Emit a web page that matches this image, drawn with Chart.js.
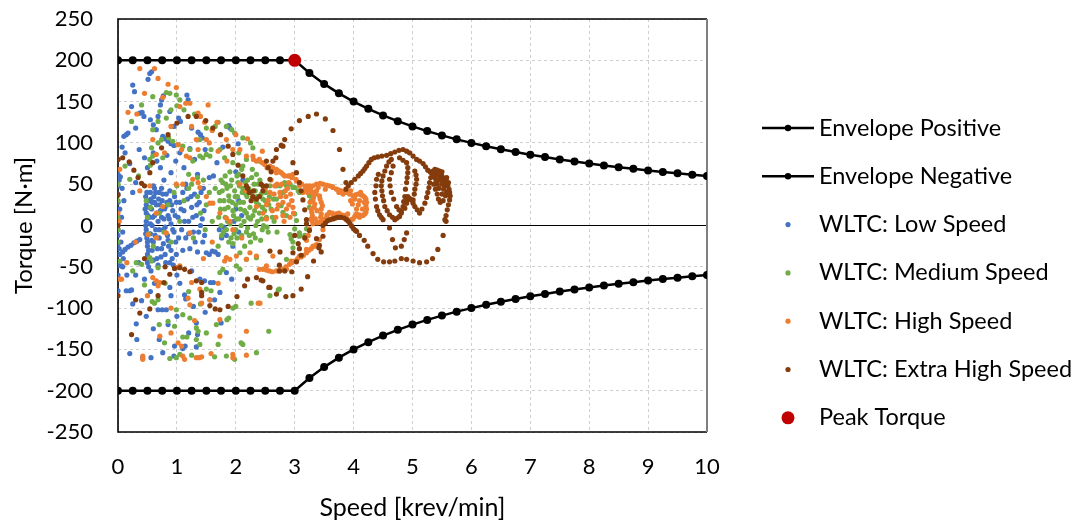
<!DOCTYPE html>
<html>
<head>
<meta charset="utf-8">
<script src="https://cdn.jsdelivr.net/npm/chart.js@4.4.1/dist/chart.umd.min.js"></script>
<style>
  body { margin: 0; background: #fff; }
</style>
</head>
<body>
<canvas id="torqueChart" width="1085" height="524"></canvas>
<script>
// envelope (speed in krev/min, torque in N·m)
const envSpeed = [0,0.25,0.5,0.75,1,1.25,1.5,1.75,2,2.25,2.5,2.75,3,3.25,3.5,3.75,4,4.25,4.5,4.75,5,5.25,5.5,5.75,6,6.25,6.5,6.75,7,7.25,7.5,7.75,8,8.25,8.5,8.75,9,9.25,9.5,9.75,10];
const envPosTorque = [200,200,200,200,200,200,200,200,200,200,200,200,200,184.6,171.4,160,150,141.2,133.3,126.3,120,114.3,109.1,104.3,100,96,92.3,88.9,85.7,82.8,80,77.4,75,72.7,70.6,68.6,66.7,64.9,63.2,61.5,60];
const envNegTorque = [-200,-200,-200,-200,-200,-200,-200,-200,-200,-200,-200,-200,-200,-184.6,-171.4,-160,-150,-141.2,-133.3,-126.3,-120,-114.3,-109.1,-104.3,-100,-96,-92.3,-88.9,-85.7,-82.8,-80,-77.4,-75,-72.7,-70.6,-68.6,-66.7,-64.9,-63.2,-61.5,-60];

const peakSpeed = [3];
const peakTorque = [200];

// WLTC operating points [speed, torque]
const lowSpeedPts = [
  [0.25,170],[0.28,162],[0.23,144],[0.51,177],[0.54,184],[0.57,186],[0.37,136],[0.41,137],[0.44,132],[0.74,152],[0.77,157],[0.72,146],[1.17,158],[1.19,152],[0.1,108],[0.14,110],[0.17,112],[0.07,95],[0.76,108],[0.8,105],[0.85,102],[0.9,99],[0.95,97],[1.03,130],[1.06,126],[0.6,122],[0.65,116],[1.36,113],[1.4,110],[1.43,106],[1.88,121],[1.9,118],[2.04,99],[0.55,128],[0.3,118],[0.95,120],[1.25,118],[0.88,138],[0.68,132],
  [0.04,59],[0.12,88],[0.2,75],[0.36,92],[0.45,82],[0.5,70],[0.6,88],[0.66,78],[0.72,70],[0.83,85],[0.9,64],[0.98,78],[1.05,88],[1.12,70],[1.22,93],[1.3,80],[1.35,62],[1.48,92],[1.55,58],[1.62,60],[1.68,76],[1.78,95],[2.0,65],[2.12,55],[0.3,52],[0.78,55],[1.15,50],[1.45,45],[0.62,45],[0.25,40],
  [0.47,35],[0.48,25],[0.48,15],[0.48,5],[0.48,-5],[0.49,-15],[0.5,-25],[0.5,-35],[0.5,-45],[0.52,30],[0.53,10],[0.55,-10],[0.55,40],[0.57,20],[0.58,0],[0.58,-30],[0.6,-20],[0.61,35],[0.62,12],[0.64,-5],[0.65,25],[0.66,-40],[0.68,5],[0.7,40],[0.7,-15],[0.72,18],[0.74,-28],[0.75,30],[0.77,-5],[0.78,8],[0.8,22],[0.8,-35],[0.82,38],[0.84,-12],[0.85,12],[0.86,-25],[0.88,30],[0.9,2],[0.92,-40],[0.93,18],[0.95,-8],[0.96,35],[0.98,-20],[0.52,-50],[0.56,-55],[0.6,48],[0.74,45],[0.68,-48],[0.88,-45],[0.58,28],
  [0.46,20],[0.47,0],[0.47,-10],[0.49,40],[0.5,-20],[0.51,12],[0.52,-30],[0.53,22],[0.54,-40],[0.55,2],[0.56,32],[0.57,-18],[0.59,10],[0.6,-42],[0.62,28],[0.63,-12],[0.64,40],[0.66,15],[0.67,-28],[0.69,32],[0.7,-5],[0.71,25],[0.73,-38],[0.74,10],[0.76,38],[0.77,-22],[0.79,20],[0.8,-2],[0.81,-45],[0.83,28],[0.85,-18],[0.87,8],[0.88,42],[0.9,-30],[0.91,25],[0.93,-5],[0.94,-48],[0.97,12],[0.99,28],[0.99,-35],
  [1.02,10],[1.05,28],[1.08,-5],[1.1,40],[1.12,18],[1.15,-15],[1.18,32],[1.2,5],[1.22,-28],[1.25,22],[1.28,-8],[1.3,38],[1.33,12],[1.35,-32],[1.38,28],[1.4,0],[1.44,-20],[1.46,18],[1.5,-33],[1.55,-35],[1.6,-31],[1.65,-32],[1.7,-35],[1.72,-5],[1.76,-15],[1.8,-2],[1.84,-12],[1.97,5],[2.0,20],[2.05,-8],[2.1,12],[1.95,-25],[2.05,30],
  [1.03,-15],[1.07,20],[1.1,-30],[1.13,5],[1.17,45],[1.2,-10],[1.24,35],[1.27,10],[1.31,-20],[1.34,25],[1.37,-8],[1.41,40],[1.43,8],[1.47,-12],
  [0,80],[0,62],[0,48],[0,38],[0,28],[0,18],[0,10],[0,3],[0,-5],[0,-12],[0,-22],[0,-35],[0,-48],[0,-60],[0,-79],[0.02,55],[0.03,20],[0.02,-28],[0.06,10],[0.08,-8],[0.1,30],[0.05,-20],[0.07,45],[0.09,-40],
  [0.03,-35],[0.08,-32],[0.12,-29],[0.17,-26],[0.22,-24],[0.27,-21],[0.32,-19],[0.37,-17],[0.06,-49],[0.08,-50],[0.14,-79],[0.2,-79],[0.23,-78],[0.4,-91],[0.31,-119],[0.32,-138],[0.2,-155],[0.42,-160],[0.56,-160],[0.76,-154],[0.95,-158],[0.96,-146],[1.1,-149],[1.14,-146],[1.33,-118],[1.35,-132],[1.33,-147],[0.68,-102],[0.75,-102],[0.82,-102],[0.88,-75],[1.05,-70],[1.13,-84],[1.15,-89],[1.39,-65],[1.47,-67],[1.56,-90],[1.64,-90],[1.57,-69],[1.62,-69],[1.73,-81],[1.84,-57],[1.93,-65],[0.45,-65],[0.55,-80],[0.62,-70],[0.3,-60],[0.25,-95],[0.6,-125],[0.85,-120],[1.0,-110],[1.2,-130],[0.9,-85],[0.35,-45],[0.15,-60],[1.25,-55],[1.0,-60],[0.7,-138],[0.48,-110],[1.48,-105],[1.75,-118],[1.28,-98]
];

const mediumSpeedPts = [
  [0.59,156],[0.82,161],[0.88,160],[0.99,158],[1.05,152],[0.9,140],[0.71,138],[0.68,126],[0.82,130],[0.4,146],[0.23,126],[0.59,116],[1.0,145],[1.3,135],[1.12,140],[0.57,94],[0.59,84],[0.68,100],[0.74,104],[0.86,106],[0.93,102],[1.02,98],[1.1,96],[1.22,92],[1.39,84],[1.44,82],[1.5,86],[1.56,84],[1.58,92],[1.73,92],[1.81,82],[1.95,76],[2.12,72],[2.18,80],[1.39,104],[1.5,118],[1.6,116],[1.65,120],[1.84,120],[1.93,116],[1.98,112],[2.12,106],[2.29,94],[2.25,100],[0.2,56],[0.54,80],[0.55,73],[0.76,82],[1.27,78],[1.2,62],[1.35,58],[0.35,60],[0.12,72],[1.7,125],[2.05,88],[2.4,78],
  [1.72,40],[1.74,20],[1.75,0],[1.76,-12],[1.78,52],[1.8,30],[1.82,10],[1.84,-5],[1.85,45],[1.87,22],[1.88,36],[1.9,2],[1.92,-15],[1.93,55],[1.94,28],[1.96,12],[1.98,42],[2.0,-5],[2.0,25],[2.02,60],[2.03,35],[2.05,8],[2.06,48],[2.08,20],[2.1,-12],[2.11,40],[2.13,28],[2.14,5],[2.16,52],[2.18,15],[2.19,35],[2.2,-3],[2.22,45],[2.24,22],[2.25,8],[2.27,58],[2.28,32],[2.3,-10],[2.32,18],[2.33,42],[2.35,28],[2.37,5],[2.38,50],[2.4,15],[2.42,-18],[2.43,38],[2.45,22],[2.47,0],[2.48,45],[2.5,30],[2.52,10],[2.55,-8],[2.57,35],[2.6,20],[1.95,-22],[2.15,-25],[2.05,62],[1.82,60],[2.35,62],[2.25,-20],
  [1.71,10],[1.73,30],[1.77,42],[1.79,-8],[1.81,20],[1.83,50],[1.86,5],[1.89,30],[1.91,48],[1.95,18],[1.97,-10],[1.99,35],[2.01,8],[2.04,52],[2.07,28],[2.09,0],[2.12,45],[2.15,18],[2.17,38],[2.2,55],[2.21,10],[2.23,-12],[2.26,40],[2.29,12],[2.31,50],[2.34,0],[2.36,35],[2.39,25],[2.41,55],[2.44,8],[2.46,32],[2.49,18],[2.51,40],[2.53,-2],[2.56,25],[2.58,48],[2.62,10],[2.64,32],[1.88,-20],[2.02,-15],[2.18,-8],[2.33,-15],[2.45,-5],[2.28,68],[2.1,68],[1.9,65],[1.75,55],[1.7,-25],
  [2.69,48],[2.75,48],[2.8,40],[2.83,52],[2.86,48],[2.92,50],[2.97,46],[3.0,46],[3.06,42],[3.08,40],[2.69,32],[2.77,24],[2.8,16],[2.86,12],[3.0,14],[3.03,6],[3.0,-4],[3.08,-12],[3.17,-12],[3.2,-4],[3.25,22],[3.28,30],[3.25,36],[2.94,-16],[2.97,-20],[2.92,-11],[3.08,-9],[2.65,5],[2.7,-8],
  [0,50],[0,30],[0,10],[0,-5],[0,-20],[0.03,-43],[0.48,30],[0.5,10],[0.52,-10],[0.55,22],[0.6,-25],[0.7,15],[0.78,-8],[0.85,25],[0.95,40],[1.05,5],[1.12,30],[1.2,45],[1.28,-15],[1.35,35],[1.4,15],[1.45,55],[1.5,25],[1.55,40],[1.6,5],[1.65,45],[1.48,-5],[1.25,50],[1.0,48],[0.9,-20],
  [0.31,-45],[0.4,-47],[0.25,-55],[0.54,-39],[0.57,-43],[0.68,-51],[0.62,-94],[0.68,-90],[0.58,-92],[0.96,-122],[0.85,-116],[1.1,-135],[1.17,-135],[1.05,-156],[0.88,-161],[0.99,-160],[1.25,-157],[1.33,-124],[1.36,-128],[1.33,-138],[1.39,-144],[1.5,-130],[1.7,-144],[1.64,-159],[1.84,-158],[1.85,-114],[1.88,-112],[1.67,-120],[1.22,-112],[1.1,-108],[0.99,-102],[0.79,-142],[2.09,-142],[2.12,-144],[2.35,-154],[1.98,-162],[1.5,-77],[1.58,-79],[1.95,-100],[2.0,-98],[1.73,-57],[1.78,-53],[2.01,-49],[2.07,-53],[2.18,-41],[2.35,-39],[2.07,-33],[2.26,-94],[2.74,-77],[2.86,-41],[2.97,-27],[3.08,-13],[2.58,-85],[2.56,-128],[2.72,-78],[0.45,-72],[0.8,-70],[1.2,-80],[1.4,-95],[0.7,-120]
];

const highSpeedPts = [
  [0.62,190],[0.37,190],[0.17,137],[0.32,135],[0.76,155],[0.85,171],[0.99,167],[1.05,144],[1.15,148],[1.22,148],[1.36,136],[1.4,132],[1.53,146],[1.47,125],[1.6,115],[1.68,125],[0.59,104],[0.65,86],[0.79,88],[1.02,98],[1.08,92],[1.16,84],[1.22,82],[1.33,104],[1.36,92],[1.5,104],[1.55,100],[1.7,90],[1.84,104],[1.95,92],[2.07,92],[2.18,84],[2.29,84],[2.4,80],[2.49,74],[2.58,72],[2.69,68],[2.77,64],[2.89,60],[2.97,62],[3.08,52],[3.2,48],[3.14,40],[3.2,44],[3.08,48],[3.03,54],[2.92,60],[2.8,62],[2.69,64],[2.6,67],[0.03,68],[0,15],[0.02,5],[0.37,42],[0.54,48],[0.65,15],[0.76,23],[0.99,50],[1.1,50],[1.27,56],[1.36,52],[1.39,46],[1.5,35],[1.56,27],[1.61,27],[1.73,15],[1.84,9],[1.9,5],[2.07,50],[2.18,42],[2.29,35],[2.35,23],[2.46,15],[2.52,8],[2.7,50],[2.75,40],[2.8,28],[2.86,20],[2.92,10],[0.9,120],[1.25,120],[0.45,160],[0.68,178],[2.2,105],[2.45,90],[2.0,110],[1.85,78],
  [2.3,80],[2.35,78],[2.45,76],[2.53,70],[2.63,70],[2.73,66],[2.83,60],[2.95,58],[3.02,56],[3.12,50],
  [2.5,45],[2.55,30],[2.6,55],[2.62,18],[2.65,38],[2.68,10],[2.72,25],[2.78,50],[2.82,5],[2.85,35],[2.88,45],[2.9,25],[2.95,30],[2.98,15],
  [2.52,25],[2.58,40],[2.66,48],[2.7,20],[2.76,35],[2.8,12],[2.84,42],[2.9,52],[2.93,38],[2.97,22],
  [3.25,48],[3.37,50],[3.48,50],[3.59,48],[3.71,44],[3.79,42],[3.88,40],[3.99,36],[4.07,38],[4.16,36],[4.21,32],[4.21,24],[4.21,16],[4.16,12],[4.05,14],[3.99,8],[3.93,6],[3.85,12],[3.71,14],[3.59,16],[3.51,8],[3.42,4],[3.31,2],[3.3,12],[3.34,26],[3.42,36],[3.37,42],[3.45,28],[3.45,20],[3.45,14],[3.3,40],[3.32,34],[3.28,20],[3.35,8],[3.4,46],[3.52,44],[3.65,46],[3.75,40],[3.82,38],[3.95,30],[4.02,32],[4.1,30],[4.18,28],[4.15,20],[4.1,10],[3.9,14],[3.78,10],[3.65,12],[3.55,12],[3.38,18],[3.28,8],[3.95,42],[4.12,40],
  [3.27,44],[3.31,48],[3.43,51],[3.54,49],[3.64,47],[3.75,43],[3.84,40],[3.93,38],[4.03,37],[4.13,37],[4.19,34],[4.22,28],[4.22,20],[4.19,14],[4.1,13],[4.02,11],[3.96,7],[3.88,9],[3.8,13],[3.75,15],[3.64,15],[3.55,13],[3.47,6],[3.38,3],[3.29,6],[3.29,16],[3.31,30],[3.36,38],[3.43,32],[3.47,24],[3.44,10],[3.33,22],[3.26,28],[3.22,40],[3.18,46],[4.08,25],[4.05,20],[3.98,26],
  [3.25,-4],[3.23,-12],[3.2,-18],[3.48,-5],[3.42,-17],[3.37,-23],[3.28,-28],[3.2,-33],[3.11,-38],[3.0,-43],[2.91,-47],[2.8,-53],[2.69,-55],[2.57,-55],[2.46,-53],[2.41,-94],[3.08,-37],[3.2,-29],[3.31,-25],[1.81,-43],[1.84,-39],[1.9,-41],[2.01,-37],[2.18,-41],[2.24,-33],[2.35,-37],[2.4,-53],[2.52,-49],[2.63,-37],[2.74,-55],[2.86,-53],[2.94,-43],
  [3.34,-25],[3.24,-30],[3.15,-36],[3.05,-40],[2.95,-45],[2.85,-50],[2.75,-54],[2.62,-56],[2.52,-54],
  [0.51,-11],[0.82,-9],[0.65,-15],[1.22,-9],[0.03,-65],[0.06,-65],[0.42,-158],[0.42,-162],[0.59,-63],[0.65,-67],[0.68,-73],[0.71,-69],[0.99,-51],[1.05,-49],[1.19,-88],[1.22,-96],[1.25,-69],[1.39,-77],[1.42,-94],[1.56,-90],[1.73,-114],[1.08,-146],[1.1,-158],[1.13,-162],[1.33,-160],[1.38,-160],[1.42,-159],[1.73,-134],[1.58,-155],[1.95,-156],[1.95,-160],[2.18,-157],[2.18,-128],[0.71,-134],[0.9,-130],[1.02,-142],[2.38,-94],[0.3,-20],[0.15,-45],[1.6,-20],[1.95,-5],[2.1,-15],[1.45,-40],[1.7,-70],[0.9,-100],[1.3,-115],[0.5,-85]
];

const extraHighSpeedPts = [
  [0,80],[0.08,82],[0.19,77],[0.27,67],[0.34,58],[0.4,51],[0.45,48],[0.54,64],[0.59,76],[0.74,94],[0.85,110],[1.0,124],[1.19,132],[1.33,132],[1.49,127],[1.61,118],[1.74,110],[1.87,96],[1.95,86],[2.04,73],[2.12,60],[2.18,48],[2.23,40],[2.29,35],[2.35,32],[2.4,35],[2.46,42],[2.52,48],[2.58,56],[2.6,65],[2.63,78],[2.69,92],[2.77,97],[2.83,104],[2.94,117],[3.08,127],[3.23,132],[3.37,135],[3.52,129],[3.65,115],[3.76,92],[3.82,68],[3.87,52],
  [2.8,96],[2.68,82],[2.97,76],[3.03,64],[3.08,52],[3.11,42],[3.14,31],[3.17,19],[3.2,7],[3.2,2],[3.25,-6],[3.37,-16],[3.42,-24],[3.45,-32],[0,37],[0,0],[2.2,45],[2.3,42],[2.26,30],[2.55,70],[2.52,78],[2.43,50],[2.46,48],
  [3.48,0],[3.56,6],[3.65,8],[3.73,10],[3.79,10],[3.88,7],[3.94,2],[4.0,-4],[4.05,-7],[4.1,-12],[4.18,-18],[4.24,-25],[4.33,-34],[4.41,-41],[4.51,-44],[4.61,-44],[4.7,-43],[4.81,-40],[4.9,-41],[5.01,-43],[5.12,-45],[5.24,-44],[5.34,-40],[5.43,-29],[5.52,-12],[5.57,5],
  [3.52,3],[3.6,7],[3.69,9],[3.76,10],[3.84,9],[3.91,5],[3.97,-1],[4.03,-6],
  [4.61,-3],[4.66,-17],[4.71,-27],[4.81,-25],[4.86,-17],[4.9,-9],
  [3.87,44],[3.96,52],[4.08,60],[4.16,66],[4.22,72],[4.3,80],[4.41,83],[4.56,85],[4.7,89],[4.84,92],[4.95,88],[5.07,80],[5.18,75],[5.26,67],[5.35,64],[5.46,60],[5.57,56],[5.6,48],[5.63,40],[5.63,31],[5.59,19],[5.55,7],
  [3.91,48],[4.02,56],[4.12,63],[4.19,69],[4.26,76],[4.35,82],[4.48,84],[4.63,87],[4.77,91],[4.9,90],[5.01,84],[5.12,78],[5.22,71],[5.3,65],[5.4,62],[5.52,58],[5.61,52],[5.62,44],[5.64,36],[5.61,25],[5.57,12],
  [4.64,80],[4.56,72],[4.5,60],[4.47,48],[4.49,36],[4.53,23],[4.61,13],[4.7,7],[4.78,82],[4.9,76],[4.92,64],[4.9,52],[4.87,35],[4.84,23],[4.78,11],
  [4.6,77],[4.53,66],[4.48,54],[4.48,42],[4.51,30],[4.57,18],[4.66,10],[4.74,9],[4.84,79],[4.92,70],[4.91,58],[4.88,44],[4.85,29],[4.81,17],
  [4.67,72],[4.61,56],[4.64,40],[4.73,23],[4.81,15],[4.64,64],[4.62,48],[4.68,32],[4.77,19],
  [4.9,27],[4.92,35],[4.98,31],[5.04,23],[5.12,15],[5.21,27],[5.26,40],[5.29,52],[5.32,64],[5.38,68],[5.46,66],[5.51,56],[5.55,48],
  [4.87,21],[4.91,31],[4.95,33],[5.01,27],[5.08,19],[5.16,20],[5.24,34],[5.28,46],[5.31,58],[5.35,66],[5.42,67],[5.49,61],[5.53,52],
  [5.04,66],[5.07,56],[5.04,44],[5.01,31],[5.06,61],[5.06,50],[5.03,38],
  [4.39,56],[4.36,40],[4.39,23],[4.44,13],[4.5,7],[4.42,62],[4.38,48],[4.37,32],[4.41,18],[4.47,10],
  [5.4,55],[5.45,45],[5.5,38],[5.42,50],[5.48,62],[5.52,30],[5.58,40],[5.38,58],
  [5.36,50],[5.39,44],[5.42,38],[5.45,55],[5.5,50],[5.53,44],[5.56,36],[5.44,32],[5.47,28],[5.36,60],[5.5,65],[5.58,58],
  [3.0,-12],[3.06,-22],[3.08,-28],[3.11,-36],[3.11,-77],[3.22,-62],[3.32,-43],[3.41,-27],[3.48,-13],[3.17,-15],[2.43,-66],[2.56,-75],[2.69,-83],[2.85,-86],[2.97,-85],[2.74,-55],[2.83,-55],[2.95,-56],[2.58,-31],[2.75,-32],[2.97,-33],[2.74,-48],[3.03,-44],
  [0.88,-59],[0.96,-52],[1.05,-51],[1.13,-53],[1.22,-56],[1.33,-67],[1.42,-81],[1.42,-85],[1.56,-97],[1.65,-101],[1.73,-102],[1.87,-98],[2.02,-86],[2.15,-73],[2.2,-65],[2.35,-63],[2.46,-67],[2.58,-75],[0.68,-85],[0.54,-101],[0.37,-106],[0.23,-132],[0,-85],[0.78,-69],[1.42,-69],[0.45,-40],[0.8,-50],[0.3,-90]
];

const xTicks = [0,1,2,3,4,5,6,7,8,9,10];
const yTicks = [-250,-200,-150,-100,-50,0,50,100,150,200,250];

const FONT = 'Lato, "Open Sans", sans-serif';

function toXY(pts) {
  return pts.map(p => ({ x: p[0], y: p[1] }));
}
function zipXY(xs, ys) {
  return xs.map((x, i) => ({ x: x, y: ys[i] }));
}

function scatterSet(label, pts, color, order) {
  return {
    label: label,
    data: toXY(pts),
    backgroundColor: color,
    borderColor: color,
    borderWidth: 0,
    pointRadius: 2.6,
    pointHoverRadius: 2.6,
    showLine: false,
    order: order,
    legendStyle: 'dot'
  };
}

function envelopeSet(label, ys, order) {
  return {
    label: label,
    data: zipXY(envSpeed, ys),
    showLine: true,
    borderColor: '#000',
    backgroundColor: '#000',
    borderWidth: 2.5,
    pointRadius: 4,
    pointHoverRadius: 4,
    pointBorderWidth: 0,
    order: order,
    legendStyle: 'line'
  };
}

// draws the plot frame, zero line, axis titles and the legend
const decorations = {
  id: 'decorations',
  beforeDatasetsDraw(chart) {
    const { ctx, chartArea: a, scales } = chart;
    const y0 = scales.y.getPixelForValue(0);
    ctx.save();
    ctx.strokeStyle = '#000';
    ctx.lineWidth = 1.2;
    ctx.beginPath();
    ctx.moveTo(a.left, y0);
    ctx.lineTo(a.right, y0);
    ctx.stroke();

    ctx.lineWidth = 1.6;
    ctx.beginPath();
    ctx.moveTo(a.right, a.top);
    ctx.lineTo(a.left, a.top);
    ctx.lineTo(a.left, a.bottom);
    ctx.lineTo(a.right, a.bottom);
    ctx.stroke();
    ctx.strokeStyle = '#7f7f7f';
    ctx.lineWidth = 2;
    ctx.beginPath();
    ctx.moveTo(a.right, a.top);
    ctx.lineTo(a.right, a.bottom);
    ctx.stroke();
    ctx.restore();
  },
  afterDraw(chart) {
    const { ctx, chartArea: a } = chart;
    ctx.save();
    ctx.fillStyle = '#000';
    ctx.font = '25px ' + FONT;
    ctx.textAlign = 'center';
    ctx.textBaseline = 'middle';
    ctx.fillText('Speed [krev/min]', (a.left + a.right) / 2, 508);
    ctx.font = '24px ' + FONT;
    ctx.translate(24, (a.top + a.bottom) / 2);
    ctx.rotate(-Math.PI / 2);
    ctx.fillText('Torque [N·m]', 0, 0);
    ctx.restore();

    // legend
    ctx.save();
    ctx.font = '23.5px ' + FONT;
    ctx.textBaseline = 'middle';
    ctx.textAlign = 'left';
    chart.data.datasets.forEach((ds, i) => {
      const y = 128 + i * 48.3;
      if (ds.legendStyle === 'line') {
        ctx.strokeStyle = '#000';
        ctx.lineWidth = 2.5;
        ctx.beginPath();
        ctx.moveTo(762, y);
        ctx.lineTo(814, y);
        ctx.stroke();
        ctx.fillStyle = '#000';
        ctx.beginPath();
        ctx.arc(788, y, 3.2, 0, Math.PI * 2);
        ctx.fill();
      } else {
        ctx.fillStyle = ds.backgroundColor;
        ctx.beginPath();
        ctx.arc(788, y, ds.legendStyle === 'big' ? 6.5 : 2.6, 0, Math.PI * 2);
        ctx.fill();
      }
      ctx.fillStyle = '#000';
      ctx.fillText(ds.label, 819, y);
    });
    ctx.restore();
  }
};

const ctx = document.getElementById('torqueChart').getContext('2d');
new Chart(ctx, {
  type: 'scatter',
  data: {
    datasets: [
      envelopeSet('Envelope Positive', envPosTorque, 1),
      envelopeSet('Envelope Negative', envNegTorque, 2),
      scatterSet('WLTC: Low Speed', lowSpeedPts, '#4472C4', 6),
      scatterSet('WLTC: Medium Speed', mediumSpeedPts, '#70AD47', 5),
      scatterSet('WLTC: High Speed', highSpeedPts, '#ED7D31', 4),
      scatterSet('WLTC: Extra High Speed', extraHighSpeedPts, '#843C0C', 3),
      {
        label: 'Peak Torque',
        data: zipXY(peakSpeed, peakTorque),
        backgroundColor: '#C00000',
        borderColor: '#C00000',
        borderWidth: 0,
        pointRadius: 6.5,
        pointHoverRadius: 6.5,
        order: 0,
        legendStyle: 'big'
      }
    ]
  },
  options: {
    responsive: false,
    animation: false,
    layout: { padding: { top: 19, right: 378, left: 0, bottom: 0 } },
    plugins: {
      legend: { display: false },
      tooltip: { enabled: false }
    },
    scales: {
      x: {
        type: 'linear',
        min: 0,
        max: 10,
        afterFit: s => { s.height = 92; s.paddingLeft = 0; s.paddingRight = 0; },
        afterBuildTicks: s => { s.ticks = xTicks.map(v => ({ value: v })); },
        ticks: { color: '#000', padding: 22, font: { family: FONT, size: 22 }, maxRotation: 0 },
        grid: { color: '#cfcfcf', lineWidth: 1, drawTicks: false },
        border: { display: false, dash: [3, 3] }
      },
      y: {
        type: 'linear',
        min: -250,
        max: 250,
        afterFit: s => { s.width = 118; s.paddingTop = 0; s.paddingBottom = 0; },
        afterBuildTicks: s => { s.ticks = yTicks.map(v => ({ value: v })); },
        ticks: { color: '#000', padding: 25, font: { family: FONT, size: 22 } },
        grid: { color: '#cfcfcf', lineWidth: 1, drawTicks: false },
        border: { display: false, dash: [3, 3] }
      }
    }
  },
  plugins: [decorations]
});
</script>
</body>
</html>
